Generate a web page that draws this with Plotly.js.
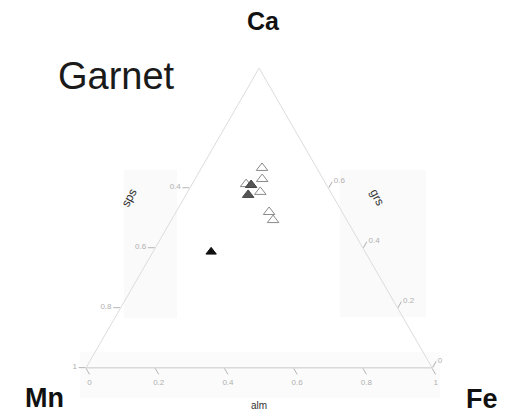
<!DOCTYPE html>
<html>
<head>
<meta charset="utf-8">
<script src="https://cdn.plot.ly/plotly-3.0.1.min.js"></script>
<style>html,body{margin:0;padding:0;background:#fff;}#chart{width:512px;height:417px;}</style>
</head>
<body>
<div id="chart"></div>
<script>
// Ternary fractions: grs (Ca), sps (Mn), alm (Fe)
const openGrs = [0.667, 0.630, 0.613, 0.587, 0.520, 0.493];
const openSps = [0.158, 0.176, 0.231, 0.203, 0.211, 0.213];
const openAlm = [0.175, 0.194, 0.156, 0.210, 0.269, 0.294];

const grayGrs = [0.610, 0.577];
const graySps = [0.218, 0.243];
const grayAlm = [0.172, 0.180];

const blackGrs = [0.387];
const blackSps = [0.445];
const blackAlm = [0.168];

// Tick labels as printed on the original diagram (clockwise convention)
const spsTickVals = [0, 0.2, 0.4, 0.6];        // position along left edge (grs value)
const spsTickText = ["1", "0.8", "0.6", "0.4"];
const almTickVals = [1, 0.8, 0.6, 0.4, 0.2, 0]; // position along bottom edge (sps value)
const almTickText = ["0", "0.2", "0.4", "0.6", "0.8", "1"];
const grsTickVals = [1, 0.8, 0.6, 0.4];        // position along right edge (alm value)
const grsTickText = ["0", "0.2", "0.4", "0.6"];

const axisCommon = {
  showgrid: false,
  linecolor: "#dcdcdc",
  linewidth: 1,
  ticks: "outside",
  ticklen: 7,
  tickcolor: "#b5b5b5",
  tickmode: "array",
  tickfont: {family: "Liberation Sans, Arial, sans-serif", size: 8, color: "#b0b0b0"},
  title: {text: ""}
};

const traces = [
  {
    type: "scatterternary", mode: "markers",
    a: openGrs, b: openSps, c: openAlm,
    marker: {symbol: "triangle-up", size: 10, color: "#ffffff", line: {color: "#8a8a8a", width: 1}},
    hoverinfo: "skip"
  },
  {
    type: "scatterternary", mode: "markers",
    a: grayGrs, b: graySps, c: grayAlm,
    marker: {symbol: "triangle-up", size: 10, color: "#555555", line: {color: "#444444", width: 1}},
    hoverinfo: "skip"
  },
  {
    type: "scatterternary", mode: "markers",
    a: blackGrs, b: blackSps, c: blackAlm,
    marker: {symbol: "triangle-up", size: 9, color: "#111111", line: {color: "#111111", width: 1}},
    hoverinfo: "skip"
  }
];

const layout = {
  width: 512, height: 417,
  margin: {l: 0, r: 0, t: 0, b: 0},
  paper_bgcolor: "#ffffff",
  showlegend: false,
  font: {family: "Liberation Sans, Arial, sans-serif"},
  ternary: {
    sum: 1,
    domain: {x: [0.168, 0.844], y: [0.1175, 0.837]},
    bgcolor: "rgba(0,0,0,0)",
    aaxis: Object.assign({}, axisCommon, {tickvals: spsTickVals, ticktext: spsTickText}),
    baxis: Object.assign({}, axisCommon, {tickvals: almTickVals, ticktext: almTickText, linecolor: "#c8c8c8"}),
    caxis: Object.assign({}, axisCommon, {tickvals: grsTickVals, ticktext: grsTickText})
  },
  shapes: [
    {type: "rect", xref: "paper", yref: "paper", layer: "below",
     x0: 124/512, x1: 177/512, y0: 1-318/417, y1: 1-170/417,
     fillcolor: "#fafafa", line: {width: 0}},
    {type: "rect", xref: "paper", yref: "paper", layer: "below",
     x0: 340/512, x1: 426/512, y0: 1-317/417, y1: 1-170/417,
     fillcolor: "#fafafa", line: {width: 0}},
    {type: "rect", xref: "paper", yref: "paper", layer: "below",
     x0: 80/512, x1: 440/512, y0: 1-398/417, y1: 1-352/417,
     fillcolor: "#fbfbfb", line: {width: 0}}
  ],
  annotations: [
    {text: "Garnet", xref: "paper", yref: "paper", x: 116/512, y: 1-76/417,
     showarrow: false, xanchor: "center", yanchor: "middle",
     font: {size: 38, color: "#1a1a1a", family: "Liberation Sans, Arial, sans-serif"}},
    {text: "<b>Ca</b>", xref: "paper", yref: "paper", x: 263/512, y: 1-21/417,
     showarrow: false, xanchor: "center", yanchor: "middle",
     font: {size: 25, color: "#111111", family: "Liberation Sans, Arial, sans-serif"}},
    {text: "<b>Mn</b>", xref: "paper", yref: "paper", x: 44/512, y: 1-398/417,
     showarrow: false, xanchor: "center", yanchor: "middle",
     font: {size: 27, color: "#111111", family: "Liberation Sans, Arial, sans-serif"}},
    {text: "<b>Fe</b>", xref: "paper", yref: "paper", x: 482/512, y: 1-399/417,
     showarrow: false, xanchor: "center", yanchor: "middle",
     font: {size: 27, color: "#111111", family: "Liberation Sans, Arial, sans-serif"}},
    {text: "alm", xref: "paper", yref: "paper", x: 259/512, y: 1-405/417,
     showarrow: false, xanchor: "center", yanchor: "middle",
     font: {size: 10, color: "#333333", family: "Liberation Sans, Arial, sans-serif"}},
    {text: "sps", xref: "paper", yref: "paper", x: 129/512, y: 1-198/417,
     showarrow: false, xanchor: "center", yanchor: "middle", textangle: -62,
     font: {size: 12, color: "#333333", family: "Liberation Sans, Arial, sans-serif"}},
    {text: "grs", xref: "paper", yref: "paper", x: 377/512, y: 1-197/417,
     showarrow: false, xanchor: "center", yanchor: "middle", textangle: 62,
     font: {size: 12, color: "#333333", family: "Liberation Sans, Arial, sans-serif"}}
  ]
};

Plotly.newPlot("chart", traces, layout, {displayModeBar: false, staticPlot: true});
</script>
</body>
</html>
